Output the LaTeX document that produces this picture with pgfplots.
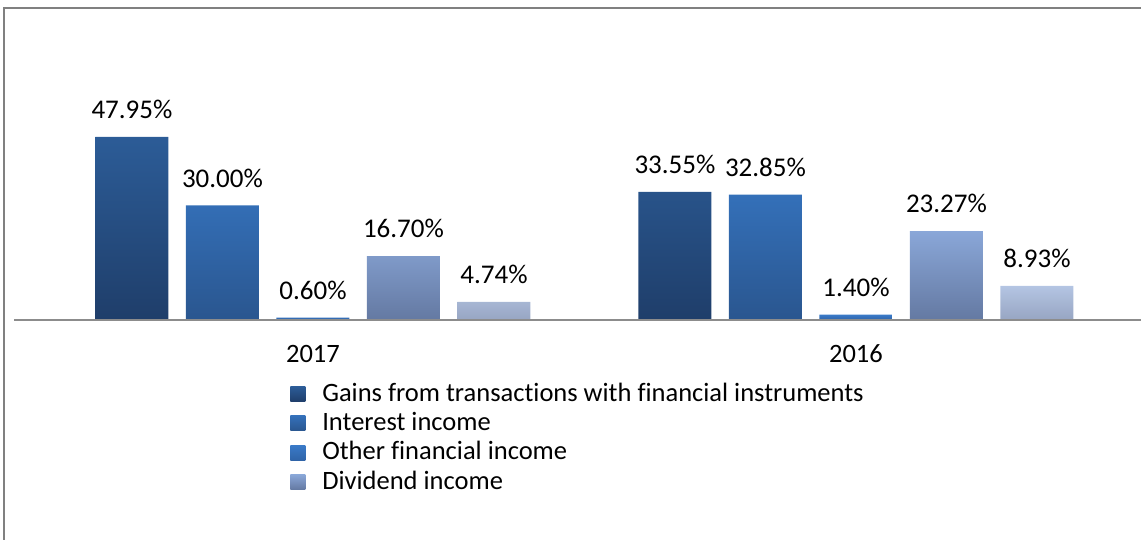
\documentclass[border=0pt]{standalone}
\usepackage{fontspec}
\setmainfont{Carlito}[Ligatures={NoCommon}]
\usepackage{pgfplots}
\pgfplotsset{compat=1.18}
\definecolor{aT}{HTML}{2C5C97}\definecolor{aB}{HTML}{1F3E6A}
\definecolor{bT}{HTML}{3470B9}\definecolor{bB}{HTML}{2A568F}
\definecolor{cT}{HTML}{3A7AC8}\definecolor{cB}{HTML}{2F64A8}
\definecolor{dT}{HTML}{8AA7D8}\definecolor{dB}{HTML}{6479A2}
\definecolor{eT}{HTML}{B4C5E3}\definecolor{eB}{HTML}{97A5C2}
\begin{document}
\fontsize{26.5}{31}\selectfont
\begin{tikzpicture}[x=1pt,y=1pt]
\path[use as bounding box] (0,0) rectangle (1141,540);
\draw[color=black!50, line width=1.5pt] (4,0) -- (4,532) -- (1141,532);
\begin{axis}[
  at={(14pt,220pt)}, anchor=south west, scale only axis,
  width=1127pt, height=191pt,
  xmin=-0.5506, xmax=1.5249, ymin=0, ymax=50,
  axis line style={draw=none}, ytick=\empty,
  xtick={0,1}, xticklabels={2017,2016}, major tick length=0pt,
  xticklabel style={font=\fontsize{26.5}{31}\selectfont, yshift=-16pt},
  ybar=17.5pt, bar width=73pt,
  clip=false,
  /pgf/number format/assume math mode=true,
  nodes near coords={\pgfmathprintnumber[fixed,precision=2,fixed zerofill]{\pgfplotspointmeta}\%},
  every node near coord/.append style={font=\fontsize{27}{31}\selectfont, text=black, yshift=9pt},
  legend style={at={(0.2450,-0.318)}, anchor=north west, draw=none, fill=none,
    font=\fontsize{26.5}{31}\selectfont, row sep=3pt, inner sep=0pt},
  legend cell align=left,
  legend image code/.code={\path[#1, draw=none] (0pt,-7.5pt) rectangle (15pt,7.5pt); \path (0pt,0pt) -- (30pt,0pt);},
]
\addplot[draw=none, top color=aT, bottom color=aB] coordinates {(0,47.95) (1,33.55)};
\addplot[draw=none, top color=bT, bottom color=bB] coordinates {(0,30.00) (1,32.85)};
\addplot[draw=none, top color=cT, bottom color=cB] coordinates {(0,0.60) (1,1.40)};
\addplot[draw=none, top color=dT, bottom color=dB] coordinates {(0,16.70) (1,23.27)};
\addplot[draw=none, top color=eT, bottom color=eB] coordinates {(0,4.74) (1,8.93)};
\legend{Gains from transactions with financial instruments, Interest income, Other financial income, Dividend income}
\draw[color=black!45, line width=1.5pt] (rel axis cs:0,0) -- (rel axis cs:1,0);
\end{axis}
\end{tikzpicture}
\end{document}
